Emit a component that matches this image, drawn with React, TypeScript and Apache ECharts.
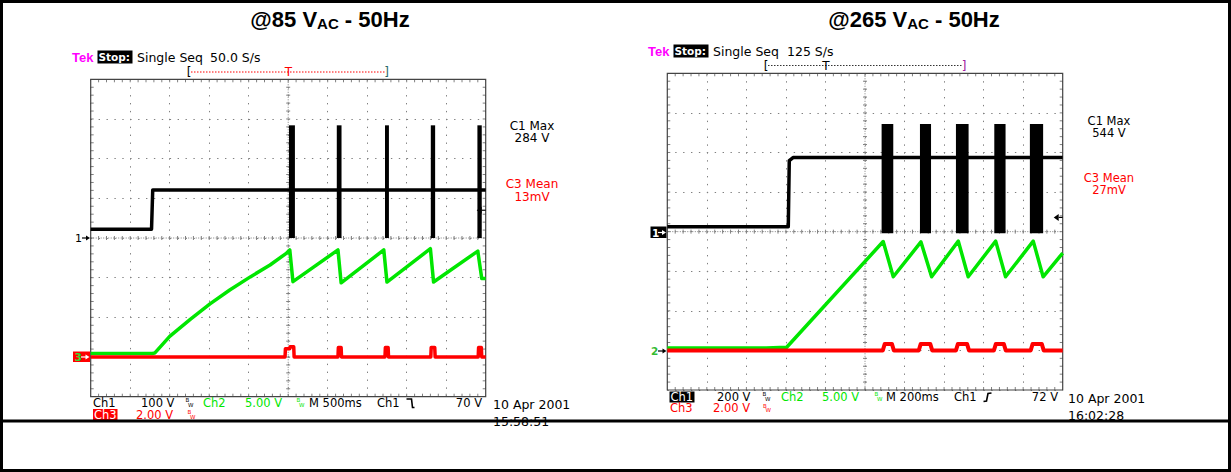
import React, { useEffect, useRef } from "react";
import * as echarts from "echarts";

// ---------- DATA (time in seconds from the left edge of each screen, volts per channel) ----------
// Left scope: @85 VAC, 500 ms/div, Ch1 100 V/div, Ch2 5 V/div, Ch3 2 V/div
const leftCh1: [number, number][] = [[0, 22], [0.77, 22], [0.785, 121], [5, 121]];
// switching bursts on Ch1: [tStart, tEnd, vMin, vMax]
const leftCh1Bursts: [number, number, number, number][] = [
  [2.51, 2.585, 0, 284], [3.115, 3.175, 0, 284], [3.725, 3.775, 0, 284], [4.305, 4.36, 0, 284], [4.895, 4.95, 0, 284],
];
const leftCh2: [number, number][] = [
  [0, 0.45], [0.78, 0.45], [0.81, 0.5], [1.0, 2.6], [1.26, 4.75], [1.51, 6.7], [1.76, 8.45], [2.02, 10.1], [2.27, 11.6],
  [2.48, 13.1], [2.52, 13.5], [2.56, 9.5], [3.13, 13.5], [3.17, 9.35], [3.71, 13.5], [3.75, 9.45], [4.3, 13.65],
  [4.34, 9.45], [4.9, 13.35], [4.95, 9.9], [5.0, 9.9],
];
const leftCh3: [number, number][] = [
  [0, 0], [2.46, 0], [2.465, 0.42], [2.52, 0.42], [2.525, 0.52], [2.57, 0.52], [2.575, 0], [3.13, 0], [3.135, 0.48],
  [3.17, 0.48], [3.175, 0], [3.725, 0], [3.73, 0.48], [3.765, 0.48], [3.77, 0], [4.305, 0], [4.31, 0.48], [4.355, 0.48],
  [4.36, 0], [4.905, 0], [4.91, 0.48], [4.945, 0.48], [4.95, 0], [5, 0],
];
const leftTrigger: [number, number][] = [[5, 70]];

// Right scope: @265 VAC, 200 ms/div, Ch1 200 V/div, Ch2 5 V/div, Ch3 2 V/div
const rightCh1: [number, number][] = [[0, 25], [0.612, 25], [0.617, 359], [0.636, 374], [2, 374]];
const rightCh1Bursts: [number, number, number, number][] = [
  [1.084, 1.143, -8, 544], [1.278, 1.334, -8, 544], [1.46, 1.524, -8, 544], [1.654, 1.711, -8, 544], [1.834, 1.901, -8, 544],
];
const rightCh2: [number, number][] = [
  [0, 0.3], [0.5, 0.3], [0.604, 0.4], [1.092, 13.75], [1.143, 9.3], [1.283, 13.7], [1.337, 9.3], [1.472, 13.8],
  [1.522, 9.3], [1.661, 13.8], [1.711, 9.3], [1.851, 13.8], [1.901, 9.3], [2.0, 12.3],
];
const rightCh3: [number, number][] = [
  [0, 0], [1.09, 0], [1.1, 0.33], [1.136, 0.33], [1.146, 0], [1.272, 0], [1.282, 0.33], [1.33, 0.33], [1.34, 0],
  [1.46, 0], [1.47, 0.33], [1.516, 0.33], [1.526, 0], [1.652, 0], [1.662, 0.33], [1.702, 0.33], [1.712, 0],
  [1.838, 0], [1.848, 0.33], [1.894, 0.33], [1.904, 0], [2, 0],
];
const rightTrigger: [number, number][] = [[2, 72]];

// ---------- STYLE ----------
const FONT = "'Liberation Sans', Arial, Helvetica, sans-serif";
const SCOPE = "'DejaVu Sans', 'Liberation Sans', sans-serif";
const GREEN = "#00e600";
const RED = "#ff0000";
const GRID_COL = "#808080";

const decorItem = (params: any) => {
  const cs = params.coordSys;
  const x0 = cs.x, y0 = cs.y, w = cs.width, h = cs.height, x1 = x0 + w, y1 = y0 + h;
  const xc = x0 + w / 2, yc = y0 + h / 2;
  let d = "";
  for (let i = 1; i < 50; i++) {
    const x = x0 + (i * w) / 50;
    d += `M${x} ${y0}L${x} ${y0 + 3}M${x} ${y1}L${x} ${y1 - 3}M${x} ${yc - 2}L${x} ${yc + 2}`;
  }
  for (let j = 1; j < 40; j++) {
    const y = y0 + (j * h) / 40;
    d += `M${x0} ${y}L${x0 + 3} ${y}M${x1} ${y}L${x1 - 3} ${y}M${xc - 2} ${y}L${xc + 2} ${y}`;
  }
  return {
    type: "group",
    children: [
      { type: "line", shape: { x1: xc, y1: y0, x2: xc, y2: y1 }, style: { stroke: GRID_COL, lineWidth: 1, lineDash: [1, 1.5] } },
      { type: "line", shape: { x1: x0, y1: yc, x2: x1, y2: yc }, style: { stroke: GRID_COL, lineWidth: 1, lineDash: [1, 1.5] } },
      { type: "path", shape: { pathData: d }, style: { fill: "none", stroke: GRID_COL, lineWidth: 1 } },
      { type: "rect", shape: { x: x0, y: y0, width: w, height: h }, style: { fill: "none", stroke: "#444", lineWidth: 1.2 } },
    ],
  };
};

const burstItem = (_params: any, api: any) => {
  const p0 = api.coord([api.value(0), api.value(3)]);
  const p1 = api.coord([api.value(1), api.value(2)]);
  return {
    type: "rect",
    shape: { x: p0[0], y: p0[1], width: p1[0] - p0[0], height: p1[1] - p0[1] },
    style: { fill: "#000" },
  };
};

const trigItem = (_params: any, api: any) => {
  const p = api.coord([api.value(0), api.value(1)]);
  return {
    type: "group",
    children: [
      { type: "polygon", shape: { points: [[p[0] - 9, p[1]], [p[0] - 4, p[1] - 3.5], [p[0] - 4, p[1] + 3.5]] }, style: { fill: "#000" } },
      { type: "line", shape: { x1: p[0] - 4, y1: p[1], x2: p[0], y2: p[1] }, style: { stroke: "#000", lineWidth: 1.2 } },
    ],
  };
};

const tx = (x: number, y: number, text: string, fill = "#000", size = 11.5, extra: any = {}) => ({
  type: "text",
  x,
  y,
  z: 50,
  style: {
    text,
    fill,
    fontSize: size,
    fontFamily: extra.family || SCOPE,
    fontWeight: extra.weight || "normal",
    align: extra.align || "left",
    verticalAlign: "middle",
    lineHeight: extra.lineHeight,
  },
});
const box = (x: number, y: number, w: number, h: number, fill: string) => ({
  type: "rect",
  z: 49,
  shape: { x, y, width: w, height: h },
  style: { fill },
});
const arrow = (x1: number, x2: number, y: number, color: string) => [
  { type: "line", z: 50, shape: { x1, y1: y, x2: x2 - 3, y2: y }, style: { stroke: color, lineWidth: 1.2 } },
  { type: "polygon", z: 50, shape: { points: [[x2, y], [x2 - 4, y - 2.5], [x2 - 4, y + 2.5]] }, style: { fill: color } },
];
const bw = (x: number, y: number, color: string) => [
  tx(x, y - 2.3, "B", color, 5.5),
  tx(x + 2.5, y + 2, "W", color, 5.5),
];

const lineSeries = (data: [number, number][], color: string, xi: number, yi: number, width = 3.5, z = 3) => ({
  type: "line",
  data,
  xAxisIndex: xi,
  yAxisIndex: yi,
  showSymbol: false,
  symbol: "none",
  silent: true,
  z,
  lineStyle: { color, width, join: "round" },
  itemStyle: { color },
});

const hiddenAxis = (gridIndex: number, min: number, max: number) => ({ gridIndex, type: "value", min, max, show: false });
const gridAxis = (gridIndex: number, min: number, max: number, interval: number) => ({
  gridIndex,
  type: "value",
  min,
  max,
  interval,
  axisLine: { show: false },
  axisTick: { show: false },
  axisLabel: { show: false },
  splitLine: { show: true, lineStyle: { color: GRID_COL, width: 1, type: [1.4, 6.5] } },
});

export default function App() {
  const ref = useRef<HTMLDivElement>(null);
  useEffect(() => {
    if (!ref.current) return;
    const chart = echarts.init(ref.current, undefined, { renderer: "svg" });

    const titleRich = {
      m: { fontSize: 22, fontWeight: "bold", fontFamily: FONT, fill: "#000", lineHeight: 24 },
      s: { fontSize: 15, fontWeight: "bold", fontFamily: FONT, fill: "#000", lineHeight: 14, verticalAlign: "bottom" },
    };

    const graphic: any[] = [
      // frame of the figure
      { type: "rect", z: 100, shape: { x: 1.5, y: 1.5, width: 1228, height: 469 }, style: { fill: "none", stroke: "#000", lineWidth: 3 } },
      { type: "line", z: 100, shape: { x1: 0, y1: 421, x2: 1231, y2: 421 }, style: { stroke: "#000", lineWidth: 3 } },
      // titles
      { type: "text", x: 330, y: 19, z: 50, style: { text: "{m|@85 V}{s|AC}{m| - 50Hz}", align: "center", verticalAlign: "middle", rich: titleRich } },
      { type: "text", x: 914, y: 19, z: 50, style: { text: "{m|@265 V}{s|AC}{m| - 50Hz}", align: "center", verticalAlign: "middle", rich: titleRich } },

      // ----- left header -----
      tx(72, 57, "Tek", "#ff00ff", 13, { weight: "bold", family: FONT }),
      box(97.5, 50.5, 35, 13, "#000"),
      tx(98.5, 57, "Stop:", "#fff", 10.5, { weight: "bold" }),
      tx(137, 57, "Single Seq", "#000", 12.5),
      tx(210, 57, "50.0 S/s", "#000", 12.5),
      { type: "line", z: 50, shape: { x1: 191, y1: 72, x2: 385, y2: 72 }, style: { stroke: RED, lineWidth: 1, lineDash: [1.5, 1.5] } },
      tx(189, 72, "[", "#000", 12, { align: "center" }),
      tx(386.5, 72, "]", "#2a6a6a", 12, { align: "center" }),
      tx(288.5, 72, "T", RED, 12, { align: "center" }),

      // ----- right header -----
      tx(648, 51, "Tek", "#ff00ff", 13, { weight: "bold", family: FONT }),
      box(673.5, 44.5, 35, 13, "#000"),
      tx(674.5, 51, "Stop:", "#fff", 10.5, { weight: "bold" }),
      tx(713, 51, "Single Seq", "#000", 12.5),
      tx(787, 51, "125 S/s", "#000", 12.5),
      { type: "line", z: 50, shape: { x1: 768, y1: 65.5, x2: 962, y2: 65.5 }, style: { stroke: "#333", lineWidth: 1, lineDash: [1.5, 1.5] } },
      tx(766, 65.5, "[", "#000", 12, { align: "center" }),
      tx(964, 65.5, "]", "#a020a0", 12, { align: "center" }),
      tx(826, 65.5, "T", "#000", 12, { align: "center" }),

      // ----- measurements -----
      tx(532, 132.2, "C1 Max\n284 V", "#000", 12, { align: "center", lineHeight: 12.5 }),
      tx(532, 190.3, "C3 Mean\n13mV", RED, 12, { align: "center", lineHeight: 12.5 }),
      tx(1109, 126.5, "C1 Max\n544 V", "#000", 11.5, { align: "center", lineHeight: 12 }),
      tx(1109, 184, "C3 Mean\n27mV", RED, 11.5, { align: "center", lineHeight: 12 }),

      // ----- ground markers -----
      tx(75, 238, "1", "#000", 11),
      ...arrow(82, 90, 238, "#000"),
      box(73, 351.5, 17, 10.5, RED),
      tx(74.5, 357, "3", "#33dd33", 10.5, { weight: "bold" }),
      ...arrow(81, 89.5, 357, "#fff"),
      box(650.5, 226.5, 16, 11.5, "#000"),
      tx(652, 232.5, "1", "#fff", 10.5, { weight: "bold" }),
      ...arrow(658, 666, 232.5, "#fff"),
      tx(651, 351, "2", "#33bb33", 10.5, { weight: "bold" }),
      ...arrow(658, 666.5, 351, "#000"),

      // ----- left footer -----
      tx(93, 402.7, "Ch1", "#000"),
      tx(141, 402.7, "100 V", "#000"),
      ...bw(185.5, 402.7, "#000"),
      tx(203, 402.7, "Ch2", GREEN),
      tx(245, 402.7, "5.00 V", GREEN),
      ...bw(296.5, 402.7, GREEN),
      tx(309, 402.7, "M 500ms", "#000"),
      tx(377, 402.7, "Ch1", "#000"),
      { type: "polyline", z: 50, shape: { points: [[406.5, 399], [411.5, 399], [412.5, 407.5], [414.5, 407.5]] }, style: { stroke: "#000", lineWidth: 1.6, fill: "none" } },
      tx(482, 402.7, "70 V", "#000", 11.5, { align: "right" }),
      box(93, 409, 24.5, 11, RED),
      tx(94, 414.5, "Ch3", "#fff"),
      tx(136, 414.5, "2.00 V", RED),
      ...bw(187.5, 414.5, RED),
      tx(493, 413, "10 Apr 2001\n15:58:51", "#000", 12.5, { lineHeight: 16.5 }),

      // ----- right footer -----
      box(669.5, 391.5, 25, 11, "#000"),
      tx(670.5, 396.7, "Ch1", "#fff"),
      tx(717, 396.7, "200 V", "#000"),
      ...bw(762.5, 396.7, "#000"),
      tx(781, 396.7, "Ch2", GREEN),
      tx(822, 396.7, "5.00 V", GREEN),
      ...bw(874.5, 396.7, GREEN),
      tx(886, 396.7, "M 200ms", "#000"),
      tx(954, 396.7, "Ch1", "#000"),
      { type: "polyline", z: 50, shape: { points: [[983.5, 401.5], [986.5, 401], [988, 393.5], [991.5, 393]] }, style: { stroke: "#000", lineWidth: 1.6, fill: "none" } },
      tx(1058, 396.7, "72 V", "#000", 11.5, { align: "right" }),
      tx(670, 408.3, "Ch3", RED),
      tx(713, 408.3, "2.00 V", RED),
      ...bw(763, 408.3, RED),
      tx(1068, 406.5, "10 Apr 2001\n16:02:28", "#000", 12.5, { lineHeight: 17 }),
    ];

    const option: any = {
      animation: false,
      backgroundColor: "#fff",
      grid: [
        { left: 90.7, top: 79.3, width: 395, height: 317.4, show: false },
        { left: 667.3, top: 73.3, width: 395.4, height: 316.7, show: false },
      ],
      xAxis: [gridAxis(0, 0, 5, 0.5), gridAxis(1, 0, 2, 0.2)],
      yAxis: [
        gridAxis(0, -400, 400, 100), // Ch1 left
        hiddenAxis(0, -5, 35), // Ch2 left (ground at -3 div)
        hiddenAxis(0, -2, 14), // Ch3 left
        gridAxis(1, -800, 800, 200), // Ch1 right
        hiddenAxis(1, -5, 35), // Ch2 right
        hiddenAxis(1, -2, 14), // Ch3 right
      ],
      graphic,
      series: [
        { type: "custom", xAxisIndex: 0, yAxisIndex: 0, data: [[0, 0]], renderItem: decorItem, silent: true, z: 1, clip: false },
        { type: "custom", xAxisIndex: 1, yAxisIndex: 3, data: [[0, 0]], renderItem: decorItem, silent: true, z: 1, clip: false },

        lineSeries(leftCh2, GREEN, 0, 1, 3.5, 3),
        lineSeries(leftCh3, RED, 0, 2, 3.5, 4),
        lineSeries(leftCh1, "#000", 0, 0, 3.5, 5),
        { type: "custom", xAxisIndex: 0, yAxisIndex: 0, data: leftCh1Bursts, encode: { x: [0, 1], y: [2, 3] }, renderItem: burstItem, silent: true, z: 5 },
        { type: "custom", xAxisIndex: 0, yAxisIndex: 0, data: leftTrigger, renderItem: trigItem, silent: true, z: 6, clip: false },

        lineSeries(rightCh2, GREEN, 1, 4, 3.5, 3),
        lineSeries(rightCh3, RED, 1, 5, 4, 4),
        lineSeries(rightCh1, "#000", 1, 3, 3.5, 5),
        { type: "custom", xAxisIndex: 1, yAxisIndex: 3, data: rightCh1Bursts, encode: { x: [0, 1], y: [2, 3] }, renderItem: burstItem, silent: true, z: 5 },
        { type: "custom", xAxisIndex: 1, yAxisIndex: 3, data: rightTrigger, renderItem: trigItem, silent: true, z: 6, clip: false },
      ],
    };
    chart.setOption(option);
    return () => chart.dispose();
  }, []);

  return <div ref={ref} style={{ position: "fixed", left: 0, top: 0, width: 1231, height: 472, background: "#fff" }} />;
}
